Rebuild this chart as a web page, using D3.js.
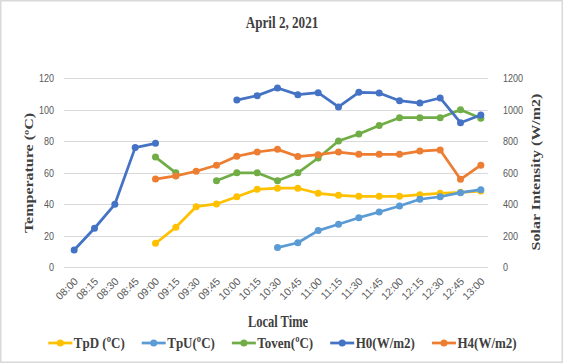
<!DOCTYPE html>
<html>
<head>
<meta charset="utf-8">
<script src="https://cdn.jsdelivr.net/npm/d3@7"></script>
<style>
  html, body { margin: 0; padding: 0; background: #fff; }
  svg { display: block; }
</style>
</head>
<body>
<div id="chart"></div>
<script>
// time of day on the x axis
const times = ["08:00", "08:15", "08:30", "08:45", "09:00", "09:15", "09:30", "09:45", "10:00", "10:15",
  "10:30", "10:45", "11:00", "11:15", "11:30", "11:45", "12:00", "12:15", "12:30", "12:45", "13:00"];

// temperatures (left axis), null where no reading
const tpD = [null, null, null, null, 15.2, 25.4, 38.5, 40.2, 44.8, 49.5, 50.2, 50.2, 47.0, 45.7, 45.1, 45.1, 45.1, 46.1, 47.0, 47.6, 48.4];
const tpU = [null, null, null, null, null, null, null, null, null, null, 12.5, 15.6, 23.3, 27.3, 31.5, 35.1, 38.9, 43.2, 44.8, 47.4, 49.3];
const toven = [null, null, null, null, 70, 60, null, 55, 60, 60, 55, 60, 69.4, 80.2, 84.6, 90, 95, 95, 95, 100, 94.6];

// solar intensity (right axis)
const h0 = [110, 248, 400, 760, 787, null, null, null, 1062, 1090, 1138, 1096, 1109, 1018, 1111, 1107, 1058, 1043, 1075, 918, 967];
const h4 = [null, null, null, null, 560, 580, 610, 648, 705, 732, 749, 703, 715, 732, 717, 717, 717, 738, 745, 559, 648];

const leftTicks = [0, 20, 40, 60, 80, 100, 120];
const rightTicks = [0, 200, 400, 600, 800, 1000, 1200];

const series = [
  {name: "TpD (ºC)", values: tpD, axis: "left", color: "#FFC000"},
  {name: "TpU(ºC)", values: tpU, axis: "left", color: "#5B9BD5"},
  {name: "Toven(ºC)", values: toven, axis: "left", color: "#70AD47"},
  {name: "H0(W/m2)", values: h0, axis: "right", color: "#4472C4"},
  {name: "H4(W/m2)", values: h4, axis: "right", color: "#ED7D31"}
];

const width = 563, height = 363;
const plot = {left: 64, right: 491, top: 78.3, bottom: 267.3};
const serif = "'Liberation Serif', 'Times New Roman', serif";
const sans = "'Liberation Sans', Arial, sans-serif";

const svg = d3.select("#chart").append("svg")
    .attr("width", width)
    .attr("height", height);

svg.append("rect")
    .attr("x", 0.75).attr("y", 0.75)
    .attr("width", width - 1.5).attr("height", height - 1.5)
    .attr("fill", "#fff")
    .attr("stroke", "#d9d9d9")
    .attr("stroke-width", 1.5);

const x = d3.scalePoint().domain(times).range([plot.left, plot.right]).padding(0.5);
const yL = d3.scaleLinear().domain([0, 120]).range([plot.bottom, plot.top]);
const yR = d3.scaleLinear().domain([0, 1200]).range([plot.bottom, plot.top]);

// text drawn slightly narrow, like the stretched original
function label(g, px, py, str, o) {
  return g.append("text")
      .attr("transform", `translate(${px},${py}) scale(${o.sx || 1},1) rotate(${o.rot || 0})`)
      .attr("text-anchor", o.anchor || "middle")
      .attr("font-family", o.family || serif)
      .attr("font-weight", o.weight || "normal")
      .attr("font-size", o.size)
      .attr("fill", o.color || "#404040")
      .attr("dy", o.dy || 0)
      .text(str);
}

// gridlines
svg.append("g")
  .selectAll("line")
  .data(leftTicks)
  .join("line")
    .attr("x1", plot.left).attr("x2", plot.right - 3)
    .attr("y1", d => Math.round(yL(d)) + 0.5).attr("y2", d => Math.round(yL(d)) + 0.5)
    .attr("stroke", "#d9d9d9")
    .attr("stroke-width", 1);

// y tick labels
const axisG = svg.append("g");
leftTicks.forEach(t => label(axisG, 54, yL(t), t, {size: 11, sx: 0.82, anchor: "end", family: sans, color: "#595959", dy: "0.35em"}));
rightTicks.forEach(t => label(axisG, 503, yR(t), t, {size: 11, sx: 0.82, anchor: "start", family: sans, color: "#595959", dy: "0.35em"}));

// x tick labels
times.forEach(t => label(axisG, x(t) + 4.5, 282, t, {size: 10.5, rot: -45, anchor: "end", family: sans, color: "#595959"}));

// titles
label(svg, 282, 28, "April 2, 2021", {size: 16, sx: 0.82, weight: "bold"});
label(svg, 278, 327, "Local Time", {size: 16, sx: 0.78, weight: "bold"});
label(svg, 33, 173, "Temperature (ºC)", {size: 16, sx: 0.8, weight: "bold", rot: -90});
label(svg, 540, 172, "Solar Intensity (W/m2)", {size: 16, sx: 0.8, weight: "bold", rot: -90});

// lines and markers
const lineG = svg.append("g");
series.forEach(s => {
  const y = s.axis === "left" ? yL : yR;
  const pts = times.map((t, i) => ({t, v: s.values[i]}));
  const line = d3.line()
      .defined(d => d.v != null)
      .x(d => x(d.t))
      .y(d => y(d.v));
  lineG.append("path")
      .datum(pts)
      .attr("d", line)
      .attr("fill", "none")
      .attr("stroke", s.color)
      .attr("stroke-width", 2.75)
      .attr("stroke-linejoin", "round");
  lineG.append("g")
    .selectAll("circle")
    .data(pts.filter(d => d.v != null))
    .join("circle")
      .attr("cx", d => x(d.t))
      .attr("cy", d => y(d.v))
      .attr("r", 3.5)
      .attr("fill", s.color);
});

// legend
const legend = svg.append("g");
let lx = 0;
series.forEach(s => {
  const g = legend.append("g").attr("transform", `translate(${lx},0)`);
  g.append("line")
      .attr("x1", 0).attr("x2", 24).attr("y1", 343).attr("y2", 343)
      .attr("stroke", s.color).attr("stroke-width", 2.75);
  g.append("circle").attr("cx", 12).attr("cy", 343).attr("r", 3.5).attr("fill", s.color);
  const txt = label(g, 25.5, 348, s.name, {size: 15.5, sx: 0.84, anchor: "start", weight: "bold"});
  const w = 25.5 + txt.node().getComputedTextLength() * 0.84;
  lx += w + 17;
});
const total = lx - 17;
legend.attr("transform", `translate(${(48 + 517) / 2 - total / 2},0)`);
</script>
</body>
</html>
